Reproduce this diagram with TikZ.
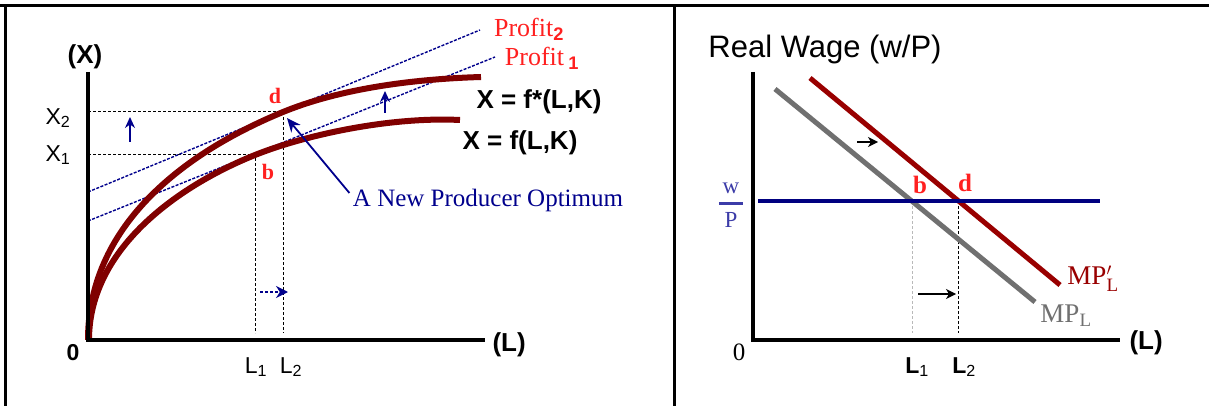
\documentclass[tikz,border=0pt]{standalone}
\usepackage{amsmath}
\usepackage{fontspec}
\setmainfont{Liberation Serif}
\setsansfont{Liberation Sans}
\usetikzlibrary{positioning,arrows.meta}
\definecolor{CurveRed}{HTML}{800000}
\definecolor{LineRed}{HTML}{990000}
\definecolor{LabelRed}{HTML}{FF2020}
\definecolor{ProfitBlue}{HTML}{00008C}
\definecolor{WageBlue}{HTML}{000080}
\definecolor{FracBlue}{HTML}{3C3CA8}
\definecolor{MPGray}{HTML}{707070}
\newcommand{\fsz}[1]{\fontsize{#1}{#1}\selectfont}

\begin{document}
\begin{tikzpicture}[x=1pt, y=-1pt, >={Stealth[length=11pt,width=10pt]},
    axis/.style={line width=4pt},
    guide/.style={line width=1pt, dash pattern=on 3pt off 2pt},
    prodcurve/.style={line width=6pt, CurveRed},
    profitline/.style={line width=1.4pt, ProfitBlue, dash pattern=on 3pt off 1.5pt},
    shiftarrow/.style={->, line width=1.8pt, ProfitBlue},
    bigsans/.style={font=\sffamily\bfseries\fsz{26}},
    smallsans/.style={font=\sffamily\fsz{23}},
    ptname/.style={text=LabelRed, font=\bfseries\fsz{22}}]
  \useasboundingbox (0,0) rectangle (1209,406);

  % frame
  \draw[line width=3pt] (0,6) -- (1209,6);
  \draw[line width=3pt] (5,6) -- (5,406);
  \draw[line width=3pt] (674,6) -- (674,406);

  % ---------- left: production function
  \coordinate (lo) at (88,340);
  \coordinate (ltop) at (88,72);
  \coordinate (lend) at (485,340);
  \coordinate (lfoot) at (0,333);
  \coordinate (d1) at (283,112);
  \coordinate (b1) at (255,155);

  \draw[guide] (d1 -| lo) -- (d1) -- (d1 |- lfoot);
  \draw[guide] (b1 -| lo) -- (b1) -- (b1 |- lfoot);

  \coordinate (p2a) at (88,192);
  \coordinate (p2b) at (480,30);
  \coordinate (p1a) at (88,221);
  \coordinate (p1b) at (495,57);
  \draw[profitline] (p2a) -- (p2b);
  \draw[profitline] (p1a) -- (p1b);

  \draw[prodcurve] (lo) .. controls (88,220) and (193,149) .. (d1)
    .. controls (333,91.5) and (401,79.4) .. (481,77);
  \draw[prodcurve] (89,340) .. controls (89,245) and (185,183) .. (b1)
    .. controls (305,135) and (390,116.5) .. (460,120);

  \draw[axis] (ltop) -- (lo) -- (lend);

  \node[bigsans] (xlab) at (85,57) {(X)};
  \node[bigsans, anchor=west] (llab) at (489,345) {(L)};
  \node[font=\sffamily\bfseries\fsz{23}] (zeroa) at (73,353) {0};
  \node[smallsans] (l1a) at (256,367) {L$_{\textsf{1}}$};
  \node[smallsans] (l2a) at (291,367) {L$_{\textsf{2}}$};
  \node[smallsans] (x2lab) at (58,118) {X$_{\textsf{2}}$};
  \node[smallsans] (x1lab) at (58,155) {X$_{\textsf{1}}$};
  \node[ptname] (dlab) at (275,96) {d};
  \node[ptname] (blab) at (268,172) {b};
  \node[bigsans] (fstar) at (539,102) {X = f*(L,K)};
  \node[bigsans] (fplain) at (520,143) {X = f(L,K)};
  \node[text=LabelRed, font=\fsz{26}] (pr2) at (529,29)
    {Profit$_{\textsf{\bfseries 2}}$};
  \node[text=LabelRed, font=\fsz{26}] (pr1) at (542,58)
    {Profit\,$_{\textsf{\bfseries 1}}$};
  \node[text=ProfitBlue, font=\fsz{25}] (optim) at (488,200) {A New Producer Optimum};

  \draw[-{Stealth[length=14pt,width=12pt]}, line width=1.8pt, ProfitBlue]
    ([yshift=7pt]optim.west) -- ([shift={(4pt,-6pt)}]d1);

  \coordinate (ua1) at (130,142);
  \coordinate (ua2) at (130,117);
  \coordinate (ub1) at (385,113);
  \coordinate (ub2) at (385,91);
  \coordinate (lm1) at (260,292);
  \coordinate (lm2) at (288,292);
  \draw[shiftarrow] (ua1) -- (ua2);
  \draw[shiftarrow] (ub1) -- (ub2);
  \draw[shiftarrow, dash pattern=on 3pt off 2pt,
    -{Stealth[length=12pt,width=12pt]}] (lm1) -- (lm2);

  % ---------- right: labour demand
  \coordinate (ro) at (753,340);
  \coordinate (rtop) at (753,72);
  \coordinate (rend) at (1120,340);
  \coordinate (rfoot) at (0,333);
  \coordinate (bw) at (912,201);
  \coordinate (dw) at (958,201);

  \draw[guide, gray!55] (bw) -- (bw |- rfoot);
  \draw[guide] (dw) -- (dw |- rfoot);

  \coordinate (mpa) at (775,89);
  \coordinate (mpb) at (1035,302);
  \coordinate (mqa) at (810,78);
  \coordinate (mqb) at (1060,285);
  \draw[line width=5pt, MPGray] (mpa) -- (mpb);
  \draw[line width=5pt, LineRed] (mqa) -- (mqb);
  \draw[line width=4pt, WageBlue] (758,201) coordinate (wl) -- (1100,201) coordinate (wr);

  \draw[axis] (rtop) -- (ro) -- (rend);

  \coordinate (ra1) at (857,142);
  \coordinate (ra2) at (878,142);
  \coordinate (rb1) at (918,294);
  \coordinate (rb2) at (956,294);
  \draw[-{Stealth[length=10pt,width=10pt,inset=3pt]}, line width=1.5pt] (ra1) -- (ra2);
  \draw[-{Stealth[length=10pt,width=10pt,inset=3pt]}, line width=1.5pt] (rb1) -- (rb2);

  \node[font=\sffamily\fsz{31}] (rwage) at (825,49) {Real Wage (w/P)};
  \node[text=FracBlue, font=\fsz{23}] (wp) at (731,205)
    {$\genfrac{}{}{2.5pt}{0}{\text{\,w\,}}{\text{P}}$};
  \node[font=\fsz{25}] (zerob) at (739,352) {0};
  \node[font=\sffamily\fsz{23}] (l1b) at (917,367) {{\bfseries L}$_{\textsf{1}}$};
  \node[font=\sffamily\fsz{23}] (l2b) at (964,367) {{\bfseries L}$_{\textsf{2}}$};
  \node[bigsans, anchor=west] (lrlab) at (1126,343) {(L)};
  \node[ptname, font=\bfseries\fsz{25}] (rbl) at (920,185) {b};
  \node[ptname, font=\bfseries\fsz{25}] (rdl) at (965,183) {d};
  \node[text=LineRed, font=\fsz{27}] (mpdash) at (1093,279) {MP$'_{\text{L}}$};
  \node[text=MPGray, font=\fsz{27}] (mplab) at (1066,316) {MP$_{\text{L}}$};
\end{tikzpicture}
\end{document}
